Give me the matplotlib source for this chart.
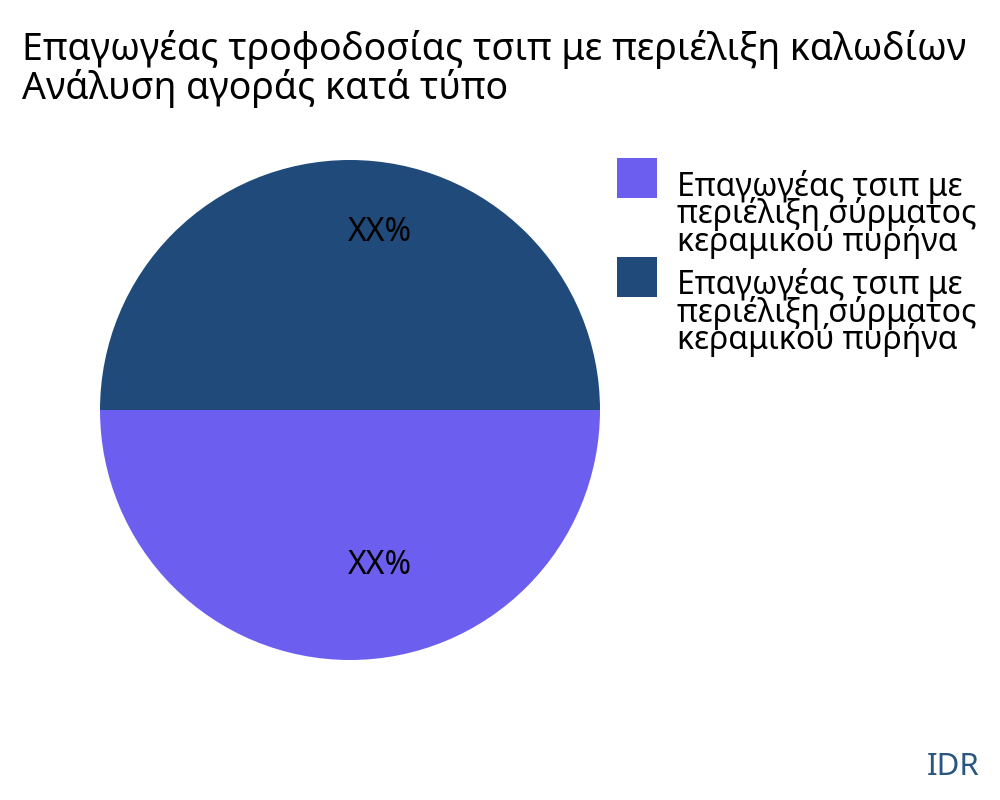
import matplotlib.pyplot as plt
from matplotlib.patches import Rectangle
from matplotlib.legend_handler import HandlerPatch

plt.rcParams['font.family'] = ['Noto Sans', 'DejaVu Sans']

title = "Επαγωγέας τροφοδοσίας τσιπ με περιέλιξη καλωδίων\nΑνάλυση αγοράς κατά τύπο"
labels = ["Επαγωγέας τσιπ με\nπεριέλιξη σύρματος\nκεραμικού πυρήνα",
          "Επαγωγέας τσιπ με\nπεριέλιξη σύρματος\nκεραμικού πυρήνα"]
values = [50, 50]
slice_text = ["XX%", "XX%"]
colors = ["#6c5ff0", "#1f4a7a"]

fig = plt.figure(figsize=(10, 8), dpi=100)
ax = fig.add_axes([0.1, 0.175, 0.5, 0.625])
wedges, _ = ax.pie(values, colors=colors, startangle=180, counterclock=True,
                   radius=1.0)
ax.set_xlim(-1, 1)
ax.set_ylim(-1, 1)
ax.set_aspect('equal')

# slice labels
ax.text(0.12, -0.62, slice_text[0], ha='center', va='center', fontsize=23)
ax.text(0.12, 0.71, slice_text[1], ha='center', va='center', fontsize=23)

fig.text(0.022, 0.963, title, ha='left', va='top', fontsize=27,
         linespacing=1.0)


# square sits on the first line of a three-line label
def top_square(legend, orig_handle, xdescent, ydescent, width, height, fontsize):
    return Rectangle((-xdescent, 20.5), width, width)


leg = fig.legend(wedges, labels, loc='upper left', bbox_to_anchor=(0.617, 0.788),
                 frameon=False, fontsize=23, handlelength=1.25, handleheight=1.25,
                 handletextpad=0.63, labelspacing=0.3, borderpad=0,
                 borderaxespad=0,
                 handler_map={w: HandlerPatch(patch_func=top_square) for w in wedges})
for t in leg.get_texts():
    t.set_linespacing(0.75)

fig.text(0.98, 0.022, "IDR", ha='right', va='bottom', fontsize=22.5,
         color="#2a5680")

fig.savefig("out.png")
